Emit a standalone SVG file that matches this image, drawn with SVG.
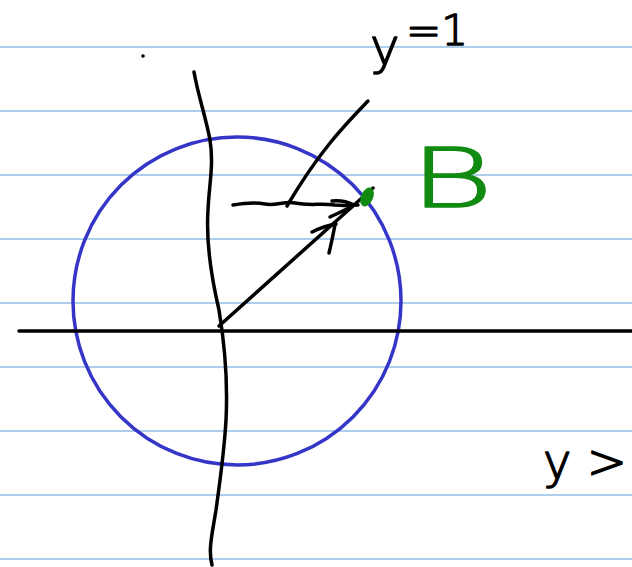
<svg xmlns="http://www.w3.org/2000/svg" width="632" height="567" viewBox="0 0 632 567">
<style>
.rule{stroke:#5b9bd8;stroke-width:1.2}
.ink{fill:none;stroke:#000;stroke-width:3.5;stroke-linecap:round;stroke-linejoin:round}
.hand{font-family:"DejaVu Sans","Liberation Sans",sans-serif;font-weight:200;stroke-linejoin:round}
</style>
<rect width="632" height="567" fill="#fff"/>
<g id="paper">
<line class="rule" x1="0" y1="47" x2="632" y2="47"/>
<line class="rule" x1="0" y1="111" x2="632" y2="111"/>
<line class="rule" x1="0" y1="175" x2="632" y2="175"/>
<line class="rule" x1="0" y1="239" x2="632" y2="239"/>
<line class="rule" x1="0" y1="303" x2="632" y2="303"/>
<line class="rule" x1="0" y1="367" x2="632" y2="367"/>
<line class="rule" x1="0" y1="431" x2="632" y2="431"/>
<line class="rule" x1="0" y1="495" x2="632" y2="495"/>
<line class="rule" x1="0" y1="559" x2="632" y2="559"/>
</g>
<g id="circle">
<circle cx="237" cy="301" r="164" fill="none" stroke="#3535c8" stroke-width="3.5"/>
</g>
<g id="axes">
<line class="ink" x1="19" y1="331" x2="632" y2="331"/>
<path class="ink" d="M194,72 C198,95 206,118 210,140 C214,165 209,185 208,210 C206,240 212,280 219,310 C224,340 228,380 226,420 C224,455 220,480 216,510 C212,535 208,550 212,565"/>
<circle cx="143" cy="56" r="1.8" fill="#000"/>
</g>
<g id="connectors">
<line class="ink" x1="219" y1="326" x2="373" y2="188"/>
<path class="ink" d="M312,232 C320,228 330,225 336,224"/>
<path class="ink" d="M329,253 C331,245 333,235 335,225"/>
<path class="ink" d="M368,101 C345,125 320,150 287,206"/>
<path class="ink" d="M233,205 C245,203 255,202 265,204 C275,206 285,201 295,203 C310,206 320,203 335,205 C345,206 352,205 358,205"/>
<path class="ink" d="M332,201 C340,200 348,202 354,205"/>
<path class="ink" d="M330,217 C338,213 346,210 354,205"/>
</g>
<g id="pointB">
<ellipse cx="367" cy="197" rx="6" ry="10" transform="rotate(25 367 197)" fill="#118a11"/>
<text class="hand" x="410" y="207" font-size="82" fill="#118a11" stroke="#118a11" stroke-width="1.5" transform="translate(410 0) scale(1.55 1) translate(-410 0)">B</text>
</g>
<g id="labels">
<text class="hand" x="370" y="64" font-size="50" fill="#000" stroke="#000" stroke-width="1.5">y</text>
<text class="hand" x="406" y="45" font-size="42" fill="#000" stroke="#000" stroke-width="1.5">=1</text>
<text class="hand" x="543" y="478" font-size="48" fill="#000" stroke="#000" stroke-width="1.5">y &gt;</text>
</g>
</svg>
